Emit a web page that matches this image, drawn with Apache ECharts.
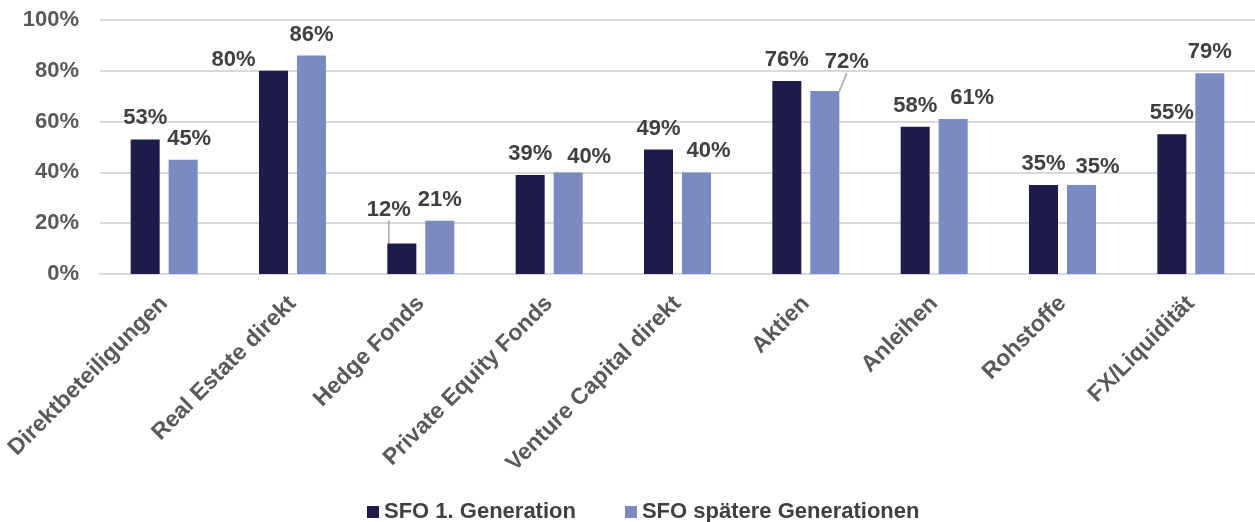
<!DOCTYPE html>
<html>
<head>
<meta charset="utf-8">
<script src="https://cdn.jsdelivr.net/npm/echarts@6/dist/echarts.min.js"></script>
<style>
  html, body { margin: 0; padding: 0; background: #fff; }
  #chart { width: 1255px; height: 522px; }
</style>
</head>
<body>
<div id="chart"></div>
<script>
// categories and values (in %)
var categories = ["Direktbeteiligungen", "Real Estate direkt", "Hedge Fonds", "Private Equity Fonds",
  "Venture Capital direkt", "Aktien", "Anleihen", "Rohstoffe", "FX/Liquidität"];
var seriesNames = ["SFO 1. Generation", "SFO spätere Generationen"];
var firstGen = [53, 80, 12, 39, 49, 76, 58, 35, 55];
var laterGen = [45, 86, 21, 40, 40, 72, 61, 35, 79];

// label nudges [dx, dy] like in the original slide
var labelShift = [
  [[0, 0], [-40, 10], [-13, -13], [0, 0], [0, 0], [0, 0], [0, 0], [0, 0], [0, 0]],
  [[6, 0], [0, 0], [0, 0], [21, 6], [12, 0], [22, -8], [19, 0], [16, 3], [0, 0]]
];
// which labels get a little guide line
var withLine = [[2], [5]];

var font = "'Liberation Sans', Arial, sans-serif";
var colors = ["#1e1c4b", "#7a8ac2"];

var myChart = echarts.init(document.getElementById("chart"));

function makeData(values, s) {
  var out = [];
  for (var i = 0; i < values.length; i++) {
    if (withLine[s].indexOf(i) >= 0) {
      out.push({ value: values[i], labelLine: { show: true } });
    } else {
      out.push(values[i]);
    }
  }
  return out;
}

function makeSeries(s, values) {
  return {
    name: seriesNames[s],
    type: "bar",
    barWidth: 29,
    barGap: "31%",
    itemStyle: { color: colors[s] },
    label: {
      show: true,
      position: "top",
      distance: 10,
      formatter: "{c}%",
      color: "#404040",
      fontFamily: font,
      fontWeight: "bold",
      fontSize: 22
    },
    labelLine: {
      show: false,
      lineStyle: { color: "#a6a6a6", width: 1.5 }
    },
    labelLayout: function (params) {
      var d = labelShift[s][params.dataIndex];
      return { dx: d[0], dy: d[1] };
    },
    data: makeData(values, s)
  };
}

var option = {
  animation: false,
  grid: {
    left: 100,
    top: 20,
    width: 1161,
    bottom: 248
  },
  legend: {
    left: 362,
    top: 496,
    icon: "rect",
    itemWidth: 12,
    itemHeight: 12,
    itemGap: 49,
    textStyle: {
      color: "#404040",
      fontFamily: font,
      fontWeight: "bold",
      fontSize: 22
    },
    data: seriesNames
  },
  xAxis: {
    type: "category",
    data: categories,
    axisTick: { show: false },
    axisLine: { lineStyle: { color: "#d9d9d9", width: 2 } },
    axisLabel: {
      interval: 0,
      rotate: 45,
      margin: 26,
      color: "#595959",
      fontFamily: font,
      fontWeight: "bold",
      fontSize: 23
    }
  },
  yAxis: {
    type: "value",
    min: 0,
    max: 100,
    interval: 20,
    axisLine: { show: false },
    axisTick: { show: false },
    splitLine: { lineStyle: { color: "#d9d9d9", width: 2 } },
    axisLabel: {
      margin: 21,
      formatter: "{value}%",
      color: "#595959",
      fontFamily: font,
      fontWeight: "bold",
      fontSize: 22
    }
  },
  series: [
    makeSeries(0, firstGen),
    makeSeries(1, laterGen)
  ]
};

myChart.setOption(option);
</script>
</body>
</html>
